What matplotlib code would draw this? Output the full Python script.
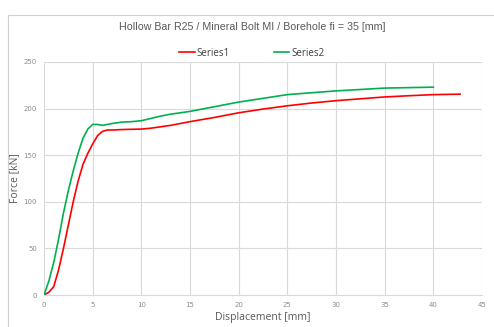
import matplotlib
matplotlib.use('Agg')
import matplotlib.pyplot as plt
from matplotlib.patches import Rectangle
from matplotlib.lines import Line2D

## values
s1_disp = [0, 0.5, 1.0, 1.5, 2.0, 2.5, 3.0, 3.5, 4.0, 4.5, 5.0, 5.5, 6.0, 6.5, 7, 8, 9, 10,
           11, 12, 13, 15, 17.5, 20, 22.5, 25, 27.5, 30, 32.5, 35, 37.5, 40, 42.75]
s1_force = [0, 3, 9, 27, 50, 75, 100, 122, 140, 152, 162, 171, 175.5, 177, 177, 177.5, 177.8, 178,
            179, 180.5, 182, 186, 190.5, 195.5, 199.5, 203, 206, 208.5, 210.5, 212.5, 213.8, 215, 215.5]

s2_disp = [0, 0.5, 1.0, 1.5, 2.0, 2.5, 3.0, 3.5, 4.0, 4.5, 5.0, 5.5, 6.0, 7.0, 8.0, 9.0, 10.0,
           11, 12, 13, 15, 17.5, 20, 22.5, 25, 27.5, 30, 32.5, 35, 37.5, 40]
s2_force = [0, 15, 35, 60, 88, 112, 133, 152, 168, 178, 183, 183, 182, 184, 185.5, 186, 187,
            189.5, 192, 194, 197, 202, 207, 211, 215, 217, 219, 220.5, 222, 222.5, 223]

title = 'Hollow Bar R25 / Mineral Bolt MI / Borehole fi = 35 [mm]'
series_names = ['Series1', 'Series2']
colors = ['#ff0000', '#00b050']

W, H = 494, 327
fig = plt.figure(figsize=(W / 100, H / 100), dpi=100)
fig.patch.set_facecolor('white')

# chart area border (runs off the right/bottom edge like in the reference)
fig.add_artist(Rectangle((8 / W, -0.1), 1.0, 1 - 15 / H + 0.1, transform=fig.transFigure,
                         fill=False, edgecolor='#d0d0d0', linewidth=0.8))

ax = fig.add_axes([44 / W, 1 - 295 / H, (482 - 44) / W, (295 - 62) / H])
ax.plot(s1_disp, s1_force, color=colors[0], linewidth=1.2)
ax.plot(s2_disp, s2_force, color=colors[1], linewidth=1.2)

ax.set_xlim(0, 45)
ax.set_ylim(0, 250)
ax.set_xticks(range(0, 46, 5))
ax.set_yticks(range(0, 251, 50))
ax.grid(True, color='#d9d9d9', linewidth=0.8)
ax.set_axisbelow(True)
for side in ['top', 'right', 'left']:
    ax.spines[side].set_visible(False)
ax.spines['bottom'].set_color('#d9d9d9')
ax.tick_params(length=0, labelsize=5, colors='#8c8c8c', pad=5)

ax.set_xlabel('Displacement [mm]', fontsize=7.5, color='#595959', family='Open Sans', labelpad=3)
ax.set_ylabel('Force [kN]', fontsize=7.5, color='#595959', family='Open Sans')
ax.yaxis.set_label_coords(-(44 - 20) / (482 - 44), 0.5)

fig.text(252 / W, 1 - 27 / H, title, ha='center', va='center', fontsize=7.7,
         color='#595959', family='Liberation Sans')

handles = [Line2D([], [], color=c, linewidth=1.2) for c in colors]
fig.legend(handles, series_names, loc='center', bbox_to_anchor=(252 / W, 1 - 53 / H), ncol=2,
           frameon=False, prop={'family': 'Open Sans', 'size': 7}, labelcolor='#404040',
           handlelength=1.6, handletextpad=0.2, columnspacing=4.5)

fig.savefig('out.png', dpi=100)
